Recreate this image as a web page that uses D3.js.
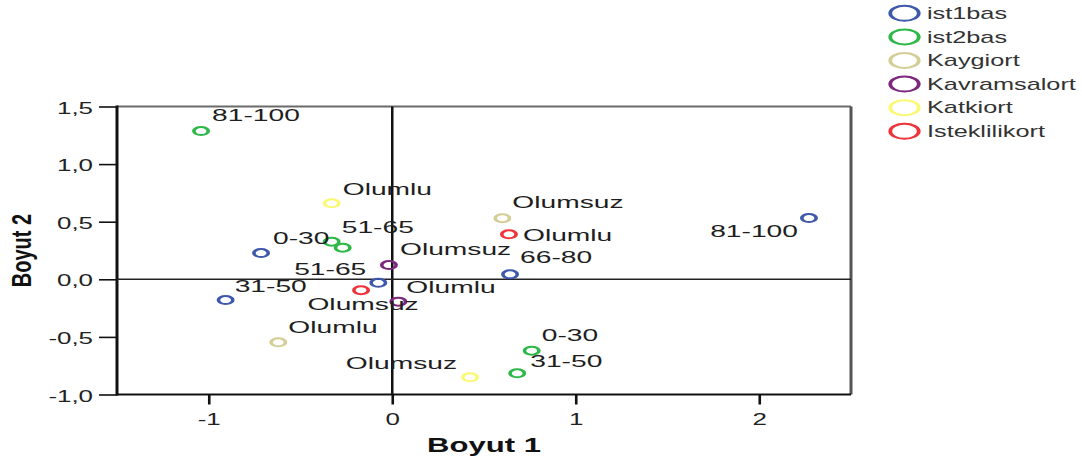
<!DOCTYPE html>
<html>
<head>
<meta charset="utf-8">
<script src="https://cdn.jsdelivr.net/npm/d3@7"></script>
<style>
  body { margin: 0; background: #fff; }
  text { font-family: "Liberation Sans", Arial, sans-serif; }
</style>
</head>
<body>
<div id="chart"></div>
<script>
"use strict";

// axis ticks
var xTicks = [-1, 0, 1, 2];
var yTicks = [-1.0, -0.5, 0.0, 0.5, 1.0, 1.5];

// series in legend order
var seriesNames = ["ist1bas", "ist2bas", "Kaygiort", "Kavramsalort", "Katkiort", "Isteklilikort"];
var seriesColors = ["#3E58AC", "#2EB848", "#D3CE97", "#7C287D", "#FBF873", "#EF3338"];

// category points (Boyut 1, Boyut 2)
var ageCats = ["0-30", "31-50", "51-65", "66-80", "81-100"];
var ist1basX = [-0.715, -0.908, -0.076, 0.642, 2.271];
var ist1basY = [0.228, -0.180, -0.030, 0.043, 0.532];
var ist2basX = [0.760, 0.681, -0.330, -0.270, -1.042];
var ist2basY = [-0.620, -0.816, 0.326, 0.274, 1.287];

var attCats = ["Olumlu", "Olumsuz"];
var kaygiX = [-0.621, 0.600];
var kaygiY = [-0.547, 0.530];
var kavramX = [0.033, -0.018];
var kavramY = [-0.194, 0.124];
var katkiX = [-0.330, 0.424];
var katkiY = [0.660, -0.851];
var istekX = [0.636, -0.170];
var istekY = [0.391, -0.095];

// label placement (pixel offset from the point, anchor); null = label hidden
var ist1basLab = [[12, -9, "start"], [9, -8, "start"], [-12, -8, "end"], [10, -11, "start"], [-11, 19, "end"]];
var ist2basLab = [[10, -10, "start"], [13, -6, "start"], [10, -9, "start"], null, [11, -10, "start"]];
var kaygiLab = [[10, -9, "start"], [10, -10, "start"]];
var kavramLab = [[8, -9, "start"], [11, -10, "start"]];
var katkiLab = [[11, -8, "start"], [-13, -8, "end"]];
var istekLab = [[14, 7, "start"], [2, 20, "middle"]];

function renderChart() {
    var groups = [
        { cats: ageCats, xs: ist1basX, ys: ist1basY, lab: ist1basLab },
        { cats: ageCats, xs: ist2basX, ys: ist2basY, lab: ist2basLab },
        { cats: attCats, xs: kaygiX, ys: kaygiY, lab: kaygiLab },
        { cats: attCats, xs: kavramX, ys: kavramY, lab: kavramLab },
        { cats: attCats, xs: katkiX, ys: katkiY, lab: katkiLab },
        { cats: attCats, xs: istekX, ys: istekY, lab: istekLab }
    ];

    var points = [];
    groups.forEach(function (g, s) {
        g.cats.forEach(function (c, i) {
            points.push({ s: s, cat: c, x: g.xs[i], y: g.ys[i], lab: g.lab[i] });
        });
    });

    var svg = d3.select("#chart").append("svg")
        .attr("width", 1082)
        .attr("height", 462);

    var pLeft = 117, pRight = 851, pTop = 106.5, pBottom = 394.5;

    var x = d3.scaleLinear().domain([-1.5, 2.5]).range([pLeft, pRight]),
        y = d3.scaleLinear().domain([-1.0, 1.5]).range([pBottom, pTop]);

    // the picture is wide-stretched, so text and markers get a horizontal scale
    var labelStretch = 1.66, tickStretch = 1.62, markStretch = 1.8;

    // axes
    var gx = svg.append("g")
        .attr("transform", "translate(0," + pBottom + ")")
        .call(d3.axisBottom(x).tickValues(xTicks).tickSize(10).tickPadding(6)
            .tickFormat(function (d) { return String(d); }));
    gx.select(".domain").remove();
    gx.selectAll(".tick line").attr("stroke", "#111").attr("stroke-width", 2.6);
    gx.selectAll(".tick text")
        .attr("y", 0).attr("dy", 0)
        .attr("transform", "translate(0,30.5) scale(" + tickStretch + ",1)")
        .attr("font-size", 16).attr("fill", "#222");

    var gy = svg.append("g")
        .attr("transform", "translate(" + pLeft + ",0)")
        .call(d3.axisLeft(y).tickValues(yTicks).tickSize(18)
            .tickFormat(function (d) { return d.toFixed(1).replace(".", ","); }));
    gy.select(".domain").remove();
    gy.selectAll(".tick line").attr("stroke", "#111").attr("stroke-width", 1.6);
    gy.selectAll(".tick text")
        .attr("x", 0).attr("dy", "0.35em")
        .attr("transform", "translate(-24,1) scale(" + tickStretch + ",1)")
        .attr("font-size", 16).attr("fill", "#222");

    // frame
    svg.append("line").attr("x1", pLeft).attr("x2", pRight).attr("y1", pTop).attr("y2", pTop)
        .attr("stroke", "#6a6a6a").attr("stroke-width", 2);
    svg.append("line").attr("x1", pRight).attr("x2", pRight).attr("y1", pTop).attr("y2", pBottom)
        .attr("stroke", "#555").attr("stroke-width", 3);
    svg.append("line").attr("x1", pLeft).attr("x2", pRight).attr("y1", pBottom).attr("y2", pBottom)
        .attr("stroke", "#111").attr("stroke-width", 2);
    svg.append("line").attr("x1", pLeft).attr("x2", pLeft).attr("y1", pTop - 1).attr("y2", pBottom + 1)
        .attr("stroke", "#111").attr("stroke-width", 3);

    // zero lines
    svg.append("line").attr("x1", x(0)).attr("x2", x(0)).attr("y1", pTop).attr("y2", pBottom)
        .attr("stroke", "#111").attr("stroke-width", 2.5);
    svg.append("line").attr("x1", pLeft).attr("x2", pRight).attr("y1", y(0)).attr("y2", y(0))
        .attr("stroke", "#222").attr("stroke-width", 1.6);

    // markers
    svg.selectAll(".pt")
        .data(points)
        .enter().append("circle")
        .attr("class", "pt")
        .attr("r", 4)
        .attr("fill", "none")
        .attr("stroke", function (d) { return seriesColors[d.s]; })
        .attr("stroke-width", 2)
        .attr("transform", function (d) {
            return "translate(" + x(d.x) + "," + y(d.y) + ") scale(" + markStretch + ",1)";
        });

    // point labels
    svg.selectAll(".lbl")
        .data(points.filter(function (d) { return d.lab; }))
        .enter().append("text")
        .attr("class", "lbl")
        .attr("font-size", 17)
        .attr("fill", "#1e1e1e")
        .attr("text-anchor", function (d) { return d.lab[2]; })
        .attr("transform", function (d) {
            return "translate(" + (x(d.x) + d.lab[0]) + "," + (y(d.y) + d.lab[1]) + ") scale(" + labelStretch + ",1)";
        })
        .text(function (d) { return d.cat; });

    // axis titles
    svg.append("text")
        .attr("text-anchor", "middle")
        .attr("font-size", 21).attr("font-weight", "bold").attr("fill", "#111")
        .attr("transform", "translate(" + (pLeft + pRight) / 2 + ",452) scale(1.48,1)")
        .text("Boyut 1");

    svg.append("text")
        .attr("text-anchor", "middle")
        .attr("font-size", 20).attr("font-weight", "bold").attr("fill", "#111")
        .attr("transform", "translate(31," + (pTop + pBottom) / 2 + ") scale(1.35,1) rotate(-90)")
        .text("Boyut 2");

    // legend
    var legend = svg.selectAll(".leg")
        .data(seriesNames)
        .enter().append("g")
        .attr("class", "leg")
        .attr("transform", function (d, i) { return "translate(904.5," + (13.3 + i * 23.6) + ")"; });

    legend.append("circle")
        .attr("r", 7.5)
        .attr("fill", "none")
        .attr("stroke", function (d, i) { return seriesColors[i]; })
        .attr("stroke-width", 2)
        .attr("transform", "scale(1.9,1)");

    legend.append("text")
        .attr("dy", "0.36em")
        .attr("font-size", 16)
        .attr("fill", "#333")
        .attr("transform", "translate(22.5,0) scale(1.58,1)")
        .text(function (d) { return d; });
}

renderChart();
</script>
</body>
</html>
